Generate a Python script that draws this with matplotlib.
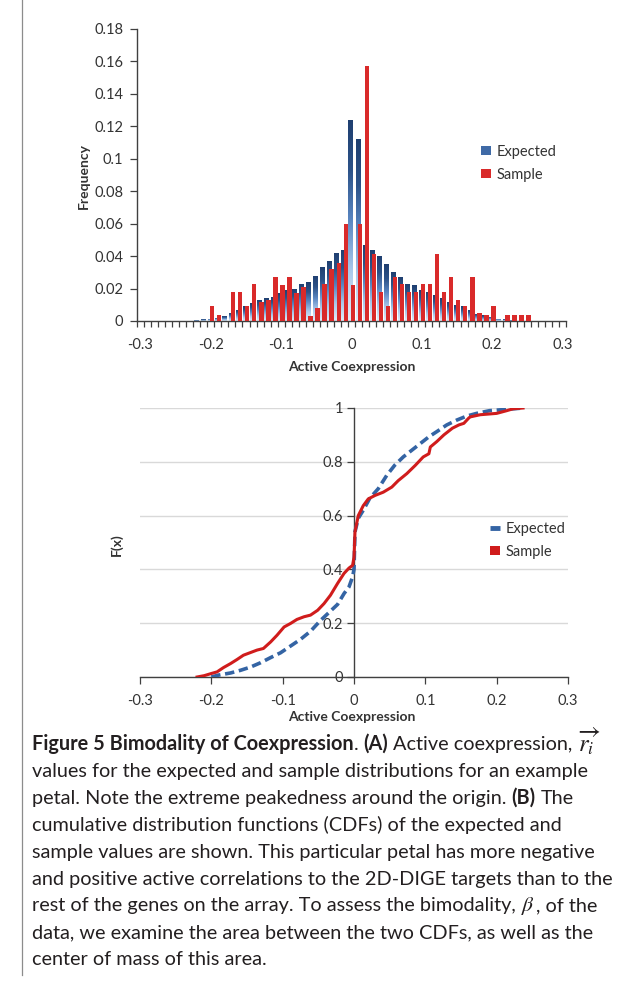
import numpy as np
import matplotlib
matplotlib.use('Agg')
import matplotlib.pyplot as plt
from matplotlib.lines import Line2D
from matplotlib.patches import Patch
from matplotlib.colors import LinearSegmentedColormap
import matplotlib.ticker as mticker

W, H = 633, 981
plt.rcParams['font.family'] = ['Lato', 'DejaVu Sans']

# ---------------- data ----------------
categories = np.round(np.linspace(-0.30, 0.30, 61), 2)

expected_freq = [0, 0, 0, 0, 0, 0, 0, 0.0003,            # -0.30 .. -0.23
                 0.0006, 0.001, 0.0015, 0.002, 0.003, 0.005, 0.007, 0.009,  # -0.22 .. -0.15
                 0.011, 0.013, 0.014, 0.015, 0.017, 0.019, 0.020, 0.023,    # -0.14 .. -0.07
                 0.024, 0.028, 0.033, 0.037, 0.042, 0.044,                  # -0.06 .. -0.01
                 0.124, 0.112, 0.047, 0.044, 0.040, 0.035, 0.030, 0.027,    # 0 .. 0.07
                 0.023, 0.022, 0.019, 0.018, 0.016, 0.014, 0.012, 0.010,    # 0.08 .. 0.15
                 0.009, 0.007, 0.0045, 0.0035, 0.0025, 0.0015, 0.001, 0.0005,  # 0.16 .. 0.23
                 0.0003, 0, 0, 0, 0, 0, 0]                                  # 0.24 .. 0.30

sample_freq = [0, 0, 0, 0, 0, 0, 0, 0, 0, 0,                              # -0.30 .. -0.21
               0.009, 0.004, 0, 0.018, 0.018, 0.009, 0.023, 0.012,         # -0.20 .. -0.13
               0.013, 0.027, 0.022, 0.027, 0.017, 0.021, 0.003, 0.008,     # -0.12 .. -0.05
               0.023, 0.032, 0.036, 0.060,                                 # -0.04 .. -0.01
               0.022, 0.060, 0.157, 0.041, 0.018, 0.009, 0.027, 0.023,     # 0 .. 0.07
               0.018, 0.018, 0.023, 0.023, 0.041, 0.018, 0.027, 0.013,     # 0.08 .. 0.15
               0.009, 0.027, 0.005, 0.004, 0.009, 0, 0.004, 0.004,         # 0.16 .. 0.23
               0.004, 0.004, 0, 0, 0, 0, 0]                                # 0.24 .. 0.30

hist_yticks = [0, 0.02, 0.04, 0.06, 0.08, 0.1, 0.12, 0.14, 0.16, 0.18]
x_ticks = [-0.3, -0.2, -0.1, 0, 0.1, 0.2, 0.3]

cdf_sample_x = [-0.22, -0.21, -0.20, -0.192, -0.183, -0.173, -0.164, -0.155, -0.145,
                -0.136, -0.127, -0.117, -0.108, -0.098, -0.089, -0.080, -0.070, -0.061,
                -0.051, -0.042, -0.033, -0.023, -0.014, -0.007, -0.002, 0.0, 0.0014,
                0.006, 0.013, 0.020, 0.0295, 0.041, 0.053, 0.062, 0.074, 0.086, 0.097,
                0.105, 0.107, 0.116, 0.126, 0.138, 0.147, 0.154, 0.161, 0.163, 0.177,
                0.200, 0.214, 0.223, 0.237]
cdf_sample_y = [0.0, 0.005, 0.013, 0.019, 0.035, 0.050, 0.065, 0.081, 0.091,
                0.100, 0.106, 0.130, 0.155, 0.186, 0.199, 0.214, 0.224, 0.230,
                0.248, 0.273, 0.304, 0.348, 0.385, 0.405, 0.415, 0.445, 0.540,
                0.600, 0.637, 0.662, 0.675, 0.687, 0.706, 0.730, 0.756, 0.787, 0.818,
                0.830, 0.855, 0.875, 0.900, 0.925, 0.937, 0.943, 0.963, 0.967, 0.975,
                0.980, 0.990, 0.997, 1.0]

cdf_expected_x = [-0.20, -0.19, -0.173, -0.159, -0.145, -0.131, -0.117, -0.103, -0.089,
                  -0.075, -0.061, -0.047, -0.033, -0.023, -0.014, -0.007, -0.002, 0.0,
                  0.0014, 0.006, 0.013, 0.022, 0.034, 0.046, 0.057, 0.069, 0.081, 0.093,
                  0.105, 0.116, 0.130, 0.144, 0.158, 0.172, 0.190, 0.214, 0.237]
cdf_expected_y = [0.0, 0.007, 0.015, 0.025, 0.037, 0.053, 0.072, 0.090, 0.115,
                  0.140, 0.170, 0.210, 0.245, 0.270, 0.310, 0.335, 0.372, 0.400,
                  0.540, 0.590, 0.620, 0.664, 0.700, 0.750, 0.787, 0.818, 0.843, 0.868,
                  0.893, 0.912, 0.937, 0.955, 0.970, 0.980, 0.990, 0.995, 1.0]
cdf_yticks = [0, 0.2, 0.4, 0.6, 0.8, 1]

series_names = ['Expected', 'Sample']

# ---------------- styling ----------------
TXT = '#333333'
AXC = '#404040'
RED = '#d92a2a'
BLUE_LINE = '#3464a4'
RED_LINE = '#d01c1c'
TICK_FS = 10.5
LAB_FS = 10


def fbox(l, t, r, b):
    return [l / W, 1 - b / H, (r - l) / W, (b - t) / H]


def fx(px):
    return px / W


def fy(py):
    return 1 - py / H


fig = plt.figure(figsize=(W / 100, H / 100), dpi=100)
fig.patch.set_facecolor('white')

fmt = mticker.FuncFormatter(lambda v, p: '{:g}'.format(round(v, 3)))

# ---------------- histogram ----------------
ax1 = fig.add_axes(fbox(137, 29, 566, 321))
blue_off, red_off, bw = -0.0012, 0.0018, 0.0062
bars = ax1.bar(categories + blue_off, expected_freq, width=bw, color='none',
               edgecolor='none', zorder=2)
cmap_blue = LinearSegmentedColormap.from_list(
    'bl', ['#e3eefa', '#a9c8ea', '#5a87c2', '#2c5288', '#1f3f70'])
grad = np.linspace(0, 1, 128).reshape(-1, 1)
for rect in bars:
    h = rect.get_height()
    if h <= 0:
        continue
    x0 = rect.get_x()
    x1 = x0 + rect.get_width()
    im = ax1.imshow(grad, cmap=cmap_blue, extent=(x0, x1, 0, h), origin='lower',
                    aspect='auto', zorder=2, interpolation='bilinear')
    im.set_clip_path(rect)
ax1.bar(categories + red_off, sample_freq, width=bw, color=RED, edgecolor='none',
        zorder=3)

ax1.set_xlim(-0.305, 0.305)
ax1.set_ylim(0, 0.18)
ax1.set_xticks(x_ticks)
ax1.xaxis.set_major_formatter(fmt)
ax1.set_xticks(list(np.round(categories - 0.005, 3)) + [0.305], minor=True)
ax1.set_yticks(hist_yticks)
ax1.yaxis.set_major_formatter(fmt)
ax1.tick_params(axis='x', which='major', length=0, pad=12, labelsize=TICK_FS, labelcolor=TXT)
ax1.tick_params(axis='x', which='minor', length=4, width=0.9, direction='out', color=AXC)
ax1.tick_params(axis='y', which='major', length=5, width=0.9, direction='out', color=AXC,
                pad=5, labelsize=TICK_FS, labelcolor=TXT)
for s in ['top', 'right']:
    ax1.spines[s].set_visible(False)
for s in ['left', 'bottom']:
    ax1.spines[s].set_color(AXC)
    ax1.spines[s].set_linewidth(1.0)
ax1.set_facecolor('none')

fig.text(fx(84), fy(176), 'Frequency', rotation=90, ha='center', va='center',
         fontsize=LAB_FS, fontweight='bold', color=TXT)
fig.text(fx(352), fy(367), 'Active Coexpression', ha='center', va='center',
         fontsize=LAB_FS, fontweight='bold', color=TXT)

h_exp = Patch(facecolor='#3f6aa6', edgecolor='none')
h_smp = Patch(facecolor=RED, edgecolor='none')
leg1 = ax1.legend([h_exp, h_smp], series_names, loc='upper left',
                  bbox_to_anchor=(fx(481), fy(145)), bbox_transform=fig.transFigure,
                  frameon=False, fontsize=TICK_FS, handlelength=0.7, handleheight=0.6,
                  handletextpad=0.35, labelspacing=0.6, borderaxespad=0, borderpad=0)
for t in leg1.get_texts():
    t.set_color(TXT)

# ---------------- CDF ----------------
ax2 = fig.add_axes(fbox(140, 408, 568, 677))
ax2.plot(cdf_expected_x, cdf_expected_y, color=BLUE_LINE, lw=2.6, ls=(0, (2.6, 1.3)),
         dash_capstyle='butt', zorder=3)
ax2.plot(cdf_sample_x, cdf_sample_y, color=RED_LINE, lw=2.2, zorder=4,
         solid_joinstyle='round')
ax2.set_xlim(-0.3, 0.3)
ax2.set_ylim(0, 1)
ax2.set_xticks(x_ticks)
ax2.xaxis.set_major_formatter(fmt)
ax2.set_yticks(cdf_yticks)
ax2.yaxis.set_major_formatter(fmt)
ax2.spines['left'].set_position(('data', 0))
for s in ['top', 'right']:
    ax2.spines[s].set_visible(False)
for s in ['left', 'bottom']:
    ax2.spines[s].set_color(AXC)
    ax2.spines[s].set_linewidth(1.0)
    ax2.spines[s].set_zorder(2)
ax2.yaxis.grid(True, color='#d9d9d9', lw=1.0, zorder=0)
ax2.set_axisbelow(True)
ax2.tick_params(axis='x', length=5, width=0.9, direction='out', color=AXC, pad=7,
                labelsize=TICK_FS, labelcolor=TXT)
ax2.tick_params(axis='y', length=5, width=0.9, direction='out', color=AXC, pad=3,
                labelsize=TICK_FS, labelcolor=TXT)

fig.text(fx(117), fy(545), 'F(x)', rotation=90, ha='center', va='center',
         fontsize=LAB_FS, fontweight='bold', color=TXT)
fig.text(fx(352), fy(717), 'Active Coexpression', ha='center', va='center',
         fontsize=LAB_FS, fontweight='bold', color=TXT)

h2_exp = Line2D([], [], color=BLUE_LINE, lw=3.5, solid_capstyle='butt')
h2_smp = Patch(facecolor=RED_LINE, edgecolor='none')
leg2 = ax2.legend([h2_exp, h2_smp], series_names, loc='upper left',
                  bbox_to_anchor=(fx(490), fy(522)), bbox_transform=fig.transFigure,
                  frameon=False, fontsize=TICK_FS, handlelength=0.7, handleheight=0.6,
                  handletextpad=0.35, labelspacing=0.6, borderaxespad=0, borderpad=0)
for t in leg2.get_texts():
    t.set_color(TXT)

# ---------------- caption ----------------
fig.add_artist(Line2D([fx(22), fx(22)], [fy(0), fy(975)], transform=fig.transFigure,
                      color='#8c8c8c', lw=0.9))

renderer = fig.canvas.get_renderer()
CAP = ['Lato', 'DejaVu Sans']
CAPC = '#231f20'


def text_w(s, **kw):
    t = fig.text(0, 0, s, **kw)
    w = t.get_window_extent(renderer).width
    t.remove()
    return w


ref_line = 'and positive active correlations to the 2D-DIGE targets than to the'
base = 12.0
size = base * 580.0 / text_w(ref_line, fontsize=base, family=CAP)


def draw_runs(x, yb, runs):
    for s, kind in runs:
        if kind == 'math':
            t = fig.text(fx(x), fy(yb), s, fontsize=size * 1.08, math_fontfamily='stix',
                         ha='left', va='baseline', color=CAPC)
            x += t.get_window_extent(renderer).width + 1
            continue
        weight = 'bold' if kind == 'b' else 'normal'
        sp = text_w('a a', fontsize=size, family=CAP, fontweight=weight) - \
            text_w('aa', fontsize=size, family=CAP, fontweight=weight)
        lead = len(s) - len(s.lstrip(' '))
        trail = len(s) - len(s.rstrip(' '))
        core = s.strip(' ')
        x += lead * sp
        if core:
            t = fig.text(fx(x), fy(yb), core, fontsize=size, family=CAP, fontweight=weight,
                         ha='left', va='baseline', color=CAPC)
            x += t.get_window_extent(renderer).width
        x += trail * sp
    return x


lines = [
    [('Figure 5 Bimodality of Coexpression', 'b'), ('. ', 'n'), ('(A)', 'b'),
     (' Active coexpression,', 'n')],
    [('values for the expected and sample distributions for an example', 'n')],
    [('petal. Note the extreme peakedness around the origin. ', 'n'), ('(B)', 'b'),
     (' The', 'n')],
    [('cumulative distribution functions (CDFs) of the expected and', 'n')],
    [('sample values are shown. This particular petal has more negative', 'n')],
    [(ref_line, 'n')],
    [('rest of the genes on the array. To assess the bimodality, ', 'n'),
     (r'$\beta$', 'math'), (', of the', 'n')],
    [('data, we examine the area between the two CDFs, as well as the', 'n')],
    [('center of mass of this area.', 'n')],
]
x0 = 32
for i, runs in enumerate(lines):
    yb = 750 + 26.9 * i
    draw_runs(x0, yb, runs)

fig.text(fx(578), fy(752), r'$\overrightarrow{r_i}$', fontsize=size * 1.25,
         math_fontfamily='stix', ha='left', va='baseline', color=CAPC)

fig.savefig('out.png', dpi=100, facecolor='white')
